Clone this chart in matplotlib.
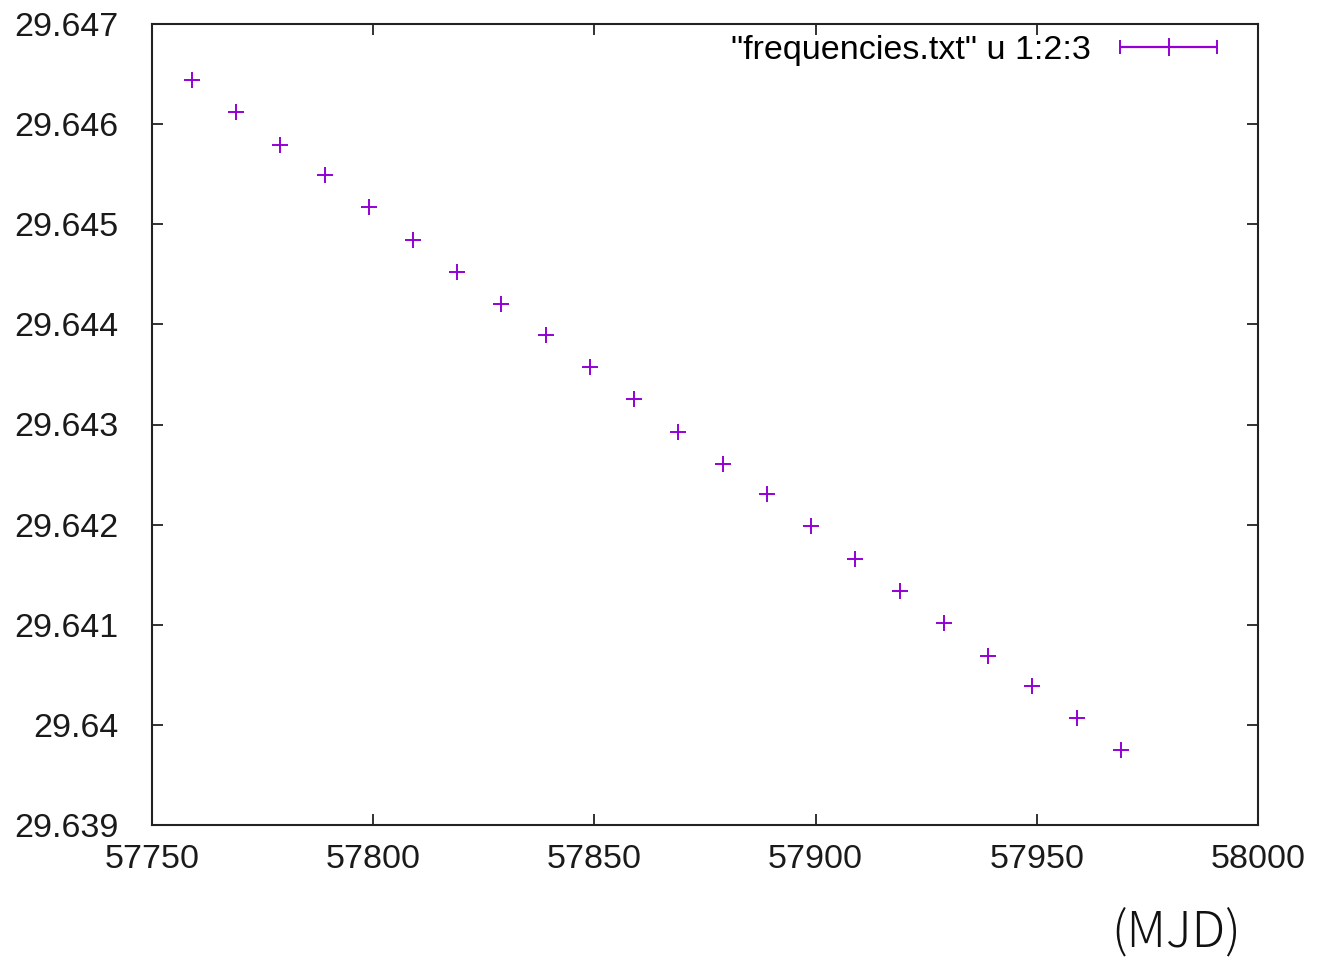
import matplotlib
matplotlib.use("Agg")
import matplotlib.pyplot as plt
from matplotlib.ticker import FuncFormatter, MultipleLocator
from matplotlib.legend_handler import HandlerErrorbar
from matplotlib.container import ErrorbarContainer
import numpy as np

mjd = [57759, 57769, 57779, 57789, 57799, 57809, 57819, 57829, 57839, 57849, 57859,
       57869, 57879, 57889, 57899, 57909, 57919, 57929, 57939, 57949, 57959, 57969]
freq = [29.64644, 29.64612, 29.64579, 29.64549, 29.64517, 29.64484, 29.64452, 29.64420,
        29.64389, 29.64357, 29.64325, 29.64293, 29.64261, 29.64231, 29.64199, 29.64166,
        29.64134, 29.64102, 29.64069, 29.64039, 29.64007, 29.63975]
legend_label = '"frequencies.txt" u 1:2:3'
xlabel_text = "(MJD)"
color = "#9400D3"

plt.rcParams['font.family'] = ['Liberation Sans', 'DejaVu Sans']

fig = plt.figure(figsize=(13.21, 9.6), dpi=100)
ax = fig.add_axes([152/1321, 1-825/960, (1258-152)/1321, (825-24)/960])

ax.plot(mjd, freq, linestyle='none', marker='+', markersize=11, markeredgewidth=1.4,
        color=color)

# legend proxy resembling gnuplot errorbar key sample
proxy = ax.errorbar([np.nan], [np.nan], xerr=[1], fmt='+', color=color, ecolor=color,
                    markersize=13, markeredgewidth=1.4, elinewidth=1.6, capsize=5,
                    capthick=1.4, label=legend_label)
fs_leg = 24.5
leg = ax.legend(handles=[proxy], loc='center right',
                bbox_to_anchor=((1217-152)/1106, (825-50)/801),
                frameon=False, borderpad=0, borderaxespad=0, fontsize=fs_leg,
                handlelength=2.85, handletextpad=0.85, markerfirst=False,
                handler_map={ErrorbarContainer: HandlerErrorbar(xerr_size=1.42)})

ax.set_xlim(57750, 58000)
ax.set_ylim(29.639, 29.647)
ax.xaxis.set_major_locator(MultipleLocator(50))
ax.yaxis.set_major_locator(MultipleLocator(0.001))
ax.yaxis.set_major_formatter(FuncFormatter(lambda v, p: f"{v:.3f}".rstrip('0')))

ax.tick_params(direction='in', length=8, width=1.3, color='#222222',
               top=True, right=True, labelsize=24.5, labelcolor='#1a1a1a')
ax.tick_params(axis='y', pad=24)
ax.tick_params(axis='x', pad=14)
for s in ax.spines.values():
    s.set_linewidth(1.5)
    s.set_color('#222222')

fig.text(1176/1321, 1-934/960, xlabel_text, ha='center', va='center',
         fontsize=36, family=['Noto Sans CJK JP', 'DejaVu Sans'], fontweight='light',
         color='#111111')

fig.savefig("out.png", dpi=100)
